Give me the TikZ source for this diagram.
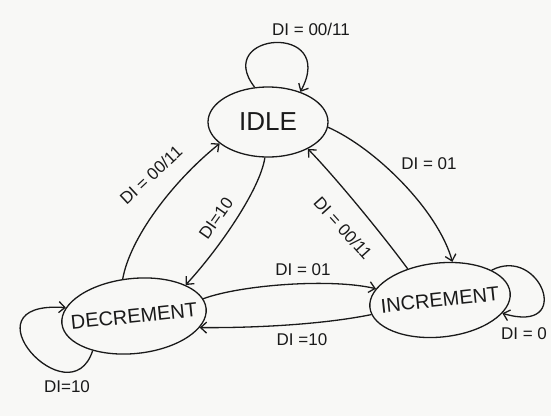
\documentclass[tikz,border=0pt]{standalone}
\usepackage{fontspec}
\setmainfont{Liberation Sans}
\usetikzlibrary{shapes.geometric,arrows.meta}
\definecolor{ink}{HTML}{1A1A1A}
\definecolor{paper}{HTML}{F8F8F6}
\begin{document}
\begin{tikzpicture}[x=1pt,y=-1pt,
  state/.style={draw=ink, line width=1.3pt, ellipse, inner sep=0pt, text=ink,
                font=\fontsize{20}{20}\selectfont},
  trans/.style={draw=ink, line width=1.3pt,
                -{Straight Barb[length=6pt,width=11pt,line width=1.3pt]}},
  lbl/.style={font=\fontsize{17}{17}\selectfont, text=ink, inner sep=1pt}]

\fill[paper] (0,0) rectangle (551,416);
\useasboundingbox (0,0) rectangle (551,416);

% states
\node[state, minimum width=120pt, minimum height=70pt,
      font=\fontsize{26}{26}\selectfont] (idle) at (268,122) {\makebox[0pt]{IDLE}};
\node[state, minimum width=145pt, minimum height=75pt, rotate=6] (dec) at (134,316)
      {\makebox[0pt]{DECREMENT}};
\node[state, minimum width=141pt, minimum height=74pt, rotate=6] (inc) at (440,300)
      {\makebox[0pt]{INCREMENT}};

% self loops
\draw[trans] (idle.111) .. controls (212,32) and (338,22) .. (idle.43);
\node[lbl] (lidle) at (311,29) {DI = 00/11};

\draw[trans] (dec.214) .. controls (70,420) and (-40,300) .. (dec.167);
\node[lbl] (ldec) at (67,387) {DI=10};

\draw[trans] (inc.24) .. controls (540,245) and (575,335) .. (inc.-18);
\node[lbl] (linc) at (524,334) {DI = 0};

% IDLE <-> INCREMENT
\draw[trans] (idle.-5) .. controls (375,148) and (438,210) .. (inc.66);
\node[lbl] (l1) at (429,164) {DI = 01};
\draw[trans] (inc.130) .. controls (385,238) and (338,180) .. (idle.-34);
\node[lbl, rotate=-48] (l2) at (343,228) {DI = 00/11};

% IDLE <-> DECREMENT
\draw[trans] (dec.101) .. controls (130,238) and (172,182) .. (idle.-156);
\node[lbl, rotate=43] (l3) at (151,175) {DI = 00/11};
\draw[trans] (idle.-95) .. controls (260,190) and (218,250) .. (dec.25);
\node[lbl, rotate=55] (l4) at (216,218) {DI=10};

% DECREMENT <-> INCREMENT
\draw[trans] (dec.8) .. controls (240,285) and (330,278) .. (inc.164);
\node[lbl] (l5) at (303,270) {DI = 01};
\draw[trans] (inc.186) .. controls (320,325) and (250,328) .. (dec.-16);
\node[lbl] (l6) at (302,340) {DI =10};
\end{tikzpicture}
\end{document}
